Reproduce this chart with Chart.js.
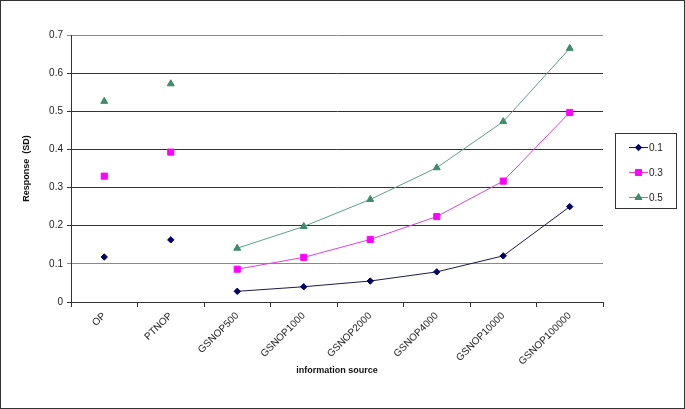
<!DOCTYPE html>
<html>
<head>
<meta charset="utf-8">
<script src="https://cdn.jsdelivr.net/npm/chart.js@4.4.1/dist/chart.umd.min.js"></script>
<style>
  body { margin: 0; background: #fff; }
  #wrap { width: 683px; height: 407px; border: 1px solid #333; position: relative; }
</style>
</head>
<body>
<div id="wrap"><canvas id="grafik" width="683" height="407"></canvas></div>
<script>
const sumber = ['OP', 'PTNOP', 'GSNOP500', 'GSNOP1000', 'GSNOP2000', 'GSNOP4000', 'GSNOP10000', 'GSNOP100000'];
const seri = ['0.1', '0.3', '0.5'];
const nilai01 = [0.118, 0.163, 0.028, 0.040, 0.055, 0.079, 0.121, 0.250];
const nilai03 = [0.330, 0.393, 0.086, 0.117, 0.164, 0.224, 0.317, 0.497];
const nilai05 = [0.526, 0.572, 0.141, 0.198, 0.269, 0.352, 0.473, 0.665];
const yTicks = [0, 0.1, 0.2, 0.3, 0.4, 0.5, 0.6, 0.7];

const font = { family: 'Liberation Sans, Arial, sans-serif', size: 10 };

// lines start at GSNOP500, OP and PTNOP are single points
const putus = ctx => ctx.p0DataIndex < 2 ? 'rgba(0,0,0,0)' : undefined;

function buatSeri(label, data, warna, garis, gaya, r) {
    return {
        label: label,
        data: data,
        borderColor: garis,
        backgroundColor: warna,
        pointBackgroundColor: warna,
        pointBorderColor: warna,
        pointStyle: gaya,
        pointRadius: r,
        borderWidth: 1,
        tension: 0,
        segment: { borderColor: putus }
    };
}

// legend with a box, drawn by hand like the spreadsheet one
const legendaKotak = {
    id: 'legendaKotak',
    afterDraw(chart) {
        const c = chart.ctx;
        c.save();
        c.strokeStyle = '#333';
        c.lineWidth = 1;
        c.strokeRect(614.5, 132.5, 61, 75);
        chart.data.datasets.forEach((ds, i) => {
            const y = 146 + i * 25;
            c.strokeStyle = ds.borderColor;
            c.beginPath();
            c.moveTo(628, y + 0.5);
            c.lineTo(647, y + 0.5);
            c.stroke();
            c.fillStyle = ds.pointBackgroundColor;
            c.strokeStyle = ds.pointBorderColor;
            Chart.helpers.drawPoint(c, {
                pointStyle: ds.pointStyle,
                radius: ds.pointRadius,
                rotation: 0,
                borderWidth: 1
            }, 637.5, y + 0.5);
            c.fillStyle = '#222';
            c.font = '10px Liberation Sans, Arial, sans-serif';
            c.textBaseline = 'middle';
            c.fillText(ds.label, 648, y + 1);
        });
        c.restore();
    }
};

const ctx = document.getElementById('grafik').getContext('2d');
const chart = new Chart(ctx, {
    type: 'line',
    data: {
        labels: sumber,
        datasets: [
            buatSeri(seri[0], nilai01, '#000066', '#1a1a4a', 'rectRot', 3.2),
            buatSeri(seri[1], nilai03, '#ff00ff', '#e040e0', 'rect', 4.3),
            buatSeri(seri[2], nilai05, '#3c8c6c', '#5aa088', 'triangle', 4)
        ]
    },
    options: {
        responsive: false,
        animation: false,
        layout: { padding: { top: 34, right: 81, bottom: 32, left: 20 } },
        plugins: {
            legend: { display: false },
            tooltip: { enabled: false }
        },
        scales: {
            x: {
                offset: true,
                grid: {
                    offset: true,
                    drawOnChartArea: false,
                    drawTicks: true,
                    tickLength: 5,
                    color: '#333'
                },
                border: { color: '#333', width: 1 },
                ticks: {
                    color: '#222',
                    font: font,
                    maxRotation: 45,
                    minRotation: 45,
                    autoSkip: false,
                    padding: 3
                },
                title: {
                    display: true,
                    text: 'information source',
                    color: '#111',
                    font: { family: font.family, size: 9, weight: 'bold' },
                    padding: { top: 0, bottom: 0 }
                },
                afterFit: s => { s.height = 74; }
            },
            y: {
                min: 0,
                max: 0.7,
                afterBuildTicks: s => { s.ticks = yTicks.map(v => ({ value: v })); },
                grid: {
                    color: ctx => (ctx.tick && (ctx.tick.value === 0.7 || ctx.tick.value === 0.1)) ? '#888' : '#333',
                    tickLength: 4,
                    lineWidth: 1
                },
                border: { color: '#333', width: 1 },
                ticks: {
                    color: '#222',
                    font: font,
                    padding: 4,
                    callback: v => String(v)
                },
                title: {
                    display: true,
                    text: 'Response  (SD)',
                    color: '#111',
                    font: { family: font.family, size: 9, weight: 'bold' },
                    padding: { top: 0, bottom: 0 }
                },
                afterFit: s => { s.width = 50; }
            }
        }
    },
    plugins: [legendaKotak]
});
</script>
</body>
</html>
